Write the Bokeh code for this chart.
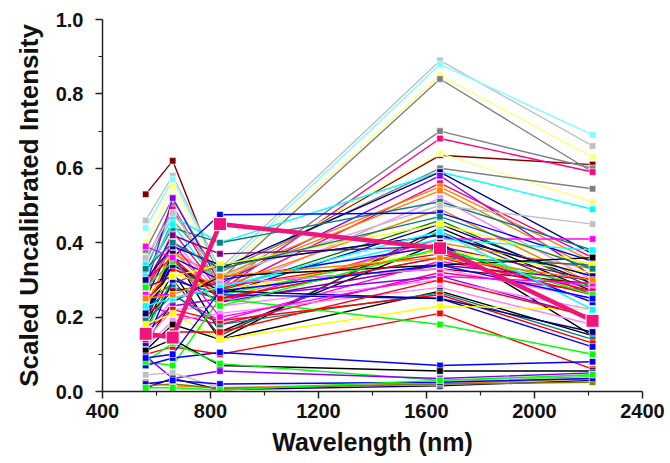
from bokeh.plotting import figure
from bokeh.embed import file_html
from bokeh.resources import INLINE
from bokeh.models import FixedTicker, PrintfTickFormatter, Range1d

wavelength = [560, 660, 835, 1650, 2215]

band560 = [0.53,0.46,0.44,0.40,0.38,0.35,0.33,0.31,0.30,0.34,
           0.25,0.28,0.27,0.22,0.23,0.26,0.32,0.20,0.36,0.21,
           0.22,0.19,0.18,0.17,0.24,0.27,0.31,0.29,0.21,0.29,
           0.20,0.16,0.26,0.24,0.22,0.26,0.28,0.13,0.20,0.15,
           0.23,0.17,0.14,0.12,0.11,0.19,0.16,0.13,0.21,0.18,
           0.10,0.08,0.07,0.11,0.08,0.095,0.045,0.025,0.01,0.015,
           0.02,0.01,0.30,0.30,0.24,0.33,0.28,0.39,0.23,0.14,
           0.09,0.25]
band660 = [0.62,0.58,0.57,0.55,0.52,0.50,0.49,0.48,0.46,0.47,
           0.40,0.52,0.43,0.37,0.38,0.41,0.44,0.34,0.48,0.36,
           0.33,0.35,0.32,0.30,0.29,0.40,0.45,0.38,0.37,0.42,
           0.36,0.30,0.32,0.33,0.28,0.26,0.31,0.24,0.27,0.25,
           0.21,0.23,0.22,0.19,0.18,0.26,0.22,0.30,0.34,0.21,
           0.12,0.07,0.09,0.14,0.13,0.035,0.05,0.015,0.035,0.02,
           0.03,0.01,0.36,0.39,0.31,0.40,0.35,0.36,0.25,0.16,
           0.10,0.26]
band835 = [0.30,0.33,0.32,0.31,0.30,0.28,0.27,0.30,0.32,0.40,
           0.33,0.29,0.27,0.31,0.30,0.26,0.40,0.28,0.31,0.475,
           0.27,0.26,0.14,0.15,0.34,0.24,0.28,0.25,0.16,0.37,
           0.30,0.26,0.27,0.28,0.25,0.19,0.24,0.31,0.29,0.29,
           0.18,0.25,0.23,0.21,0.14,0.18,0.19,0.26,0.27,0.14,
           0.10,0.25,0.105,0.07,0.075,0.055,0.01,0.01,0.005,0.008,
           0.02,0.004,0.25,0.34,0.34,0.33,0.23,0.20,0.28,0.16,
           0.27,0.31]
band1650 = [0.635,0.89,0.88,0.85,0.84,0.70,0.68,0.64,0.60,0.59,
            0.59,0.58,0.56,0.55,0.54,0.52,0.51,0.49,0.50,0.48,
            0.46,0.45,0.44,0.43,0.42,0.41,0.41,0.40,0.40,0.39,
            0.39,0.38,0.38,0.37,0.36,0.35,0.34,0.34,0.33,0.33,
            0.32,0.31,0.30,0.28,0.27,0.265,0.26,0.25,0.25,0.23,
            0.21,0.18,0.07,0.055,0.03,0.035,0.025,0.02,0.015,0.02,
            0.025,0.03,0.36,0.42,0.45,0.47,0.385,0.31,0.43,0.30,
            0.34,0.36]
band2215 = [0.61,0.66,0.69,0.63,0.59,0.60,0.59,0.51,0.545,0.49,
            0.37,0.31,0.36,0.35,0.33,0.30,0.38,0.29,0.45,0.35,
            0.28,0.29,0.27,0.26,0.31,0.41,0.38,0.33,0.15,0.30,
            0.24,0.28,0.32,0.27,0.34,0.28,0.30,0.36,0.29,0.25,
            0.27,0.20,0.22,0.18,0.15,0.14,0.13,0.12,0.16,0.22,
            0.06,0.10,0.08,0.055,0.04,0.05,0.045,0.035,0.03,0.025,
            0.035,0.045,0.26,0.31,0.34,0.33,0.26,0.29,0.22,0.20,
            0.25,0.30]

colors = ["#800000","#C0C0C0","#80FFFF","#FFFF80","#808080","#808080","#FF0080","#FFFF80","#808080","#00FFFF",
          "#000080","#8000FF","#FF0080","#FF8000","#FF8000","#FF80FF","#008080","#FF8000","#C0C0C0","#0000FF",
          "#008000","#000080","#000000","#404040","#808000","#FF00FF","#00FFFF","#FF8000","#000000","#800080",
          "#0000FF","#00FF00","#FFFF00","#FF0000","#008080","#FF00FF","#800080","#000000","#800000","#FF80FF",
          "#FF0080","#8000FF","#FF80FF","#FF80FF","#000000","#008080","#FF0000","#0000FF","#000080","#FFFF00",
          "#FF0000","#00FF00","#0000FF","#000000","#00FF00","#8000FF","#C0C0C0","#FF8000","#000080","#808000",
          "#0000FF","#00FF00","#FF0000","#0000A0","#FFFF00","#008080","#00FF00","#FF00FF","#00FFFF","#FF0000",
          "#0000FF","#FF8000"]

highlight = [0.155, 0.145, 0.45, 0.385, 0.19]
highlight_color = "#F0147C"

FONT = "Liberation Sans"

p = figure(width=670, height=463, output_backend="svg", toolbar_location=None,
           x_range=Range1d(400, 2400), y_range=Range1d(0, 1.0),
           min_border_left=102, min_border_right=28, min_border_top=19, min_border_bottom=72)
p.outline_line_color = None
p.xgrid.visible = False
p.ygrid.visible = False

for i in range(len(colors)):
    ys = [band560[i], band660[i], band835[i], band1650[i], band2215[i]]
    p.line(wavelength, ys, line_color=colors[i], line_width=1.4)
    p.scatter(wavelength, ys, marker="square", size=6.5, fill_color=colors[i],
              line_color="white", line_width=0.6)

p.line(wavelength, highlight, line_color=highlight_color, line_width=4.5)
p.scatter(wavelength, highlight, marker="square", size=13, fill_color=highlight_color,
          line_color="white", line_width=1)

p.xaxis.ticker = FixedTicker(ticks=[400, 800, 1200, 1600, 2000, 2400],
                             minor_ticks=[600, 1000, 1400, 1800, 2200])
p.yaxis.ticker = FixedTicker(ticks=[0.0, 0.2, 0.4, 0.6, 0.8, 1.0],
                             minor_ticks=[0.1, 0.3, 0.5, 0.7, 0.9])
p.yaxis.formatter = PrintfTickFormatter(format="%.1f")

for ax in (p.xaxis, p.yaxis):
    ax.axis_line_color = "#222222"
    ax.axis_line_width = 1.5
    ax.major_tick_line_color = "#222222"
    ax.minor_tick_line_color = "#222222"
    ax.major_tick_line_width = 1.5
    ax.minor_tick_line_width = 1.2
    ax.major_tick_in = 0
    ax.major_tick_out = 7
    ax.minor_tick_in = 0
    ax.minor_tick_out = 4
    ax.major_label_text_font = FONT
    ax.major_label_text_font_style = "bold"
    ax.major_label_text_font_size = "20px"
    ax.major_label_text_color = "#111111"
    ax.axis_label_text_font = FONT
    ax.axis_label_text_font_style = "bold"
    ax.axis_label_text_color = "#111111"

p.xaxis.axis_label = "Wavelength (nm)"
p.xaxis.axis_label_text_font_size = "25px"
p.xaxis.major_label_standoff = 5
p.xaxis.axis_label_standoff = 7
p.yaxis.axis_label = "Scaled Uncalibrated Intensity"
p.yaxis.axis_label_text_font_size = "26px"
p.yaxis.major_label_standoff = 12
p.yaxis.axis_label_standoff = 9

open("out.html", "w").write(file_html(p, INLINE))
